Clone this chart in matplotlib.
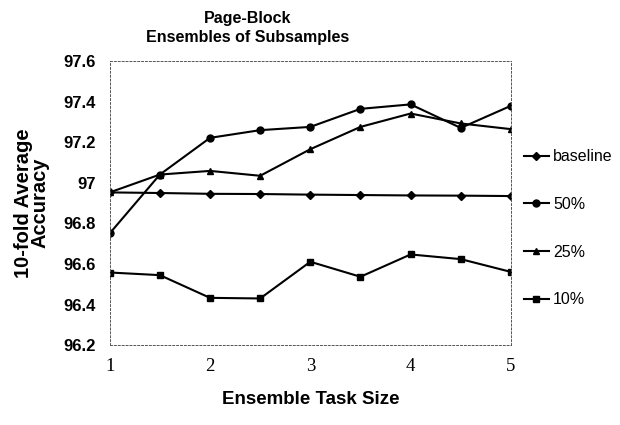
import matplotlib.pyplot as plt
import numpy as np

# data
task_size = [1, 1.5, 2, 2.5, 3, 3.5, 4, 4.5, 5]
baseline = [96.953, 96.950, 96.946, 96.945, 96.942, 96.940, 96.938, 96.937, 96.935]
acc_50 = [96.751, 97.041, 97.222, 97.260, 97.276, 97.365, 97.387, 97.271, 97.380]
acc_25 = [96.953, 97.041, 97.059, 97.035, 97.166, 97.276, 97.342, 97.293, 97.265]
acc_10 = [96.558, 96.545, 96.433, 96.430, 96.611, 96.537, 96.647, 96.624, 96.561]

y_ticks = [96.2, 96.4, 96.6, 96.8, 97, 97.2, 97.4, 97.6]
y_labels = ["96.2", "96.4", "96.6", "96.8", "97", "97.2", "97.4", "97.6"]

fig = plt.figure(figsize=(6.2, 4.25), dpi=100)
ax = fig.add_axes([0.177, 0.188, 0.647, 0.668])

ax.plot(task_size, baseline, color='k', lw=1.5, marker='D', ms=4, label='baseline')
ax.plot(task_size, acc_50, color='k', lw=1.5, marker='o', ms=5, label='50%')
ax.plot(task_size, acc_25, color='k', lw=1.5, marker='^', ms=5, label='25%')
ax.plot(task_size, acc_10, color='k', lw=1.5, marker='s', ms=4, label='10%')

ax.set_xlim(1, 5)
ax.set_ylim(96.2, 97.6)
ax.set_xticks([1, 2, 3, 4, 5])
ax.set_xticklabels(["1", "2", "3", "4", "5"], family='Liberation Serif', fontsize=13.5)
ax.set_yticks(y_ticks)
ax.set_yticklabels(y_labels, family='Liberation Sans', fontsize=12, fontweight='bold')
ax.tick_params(length=0, pad=10)
ax.tick_params(axis='x', pad=9)

# dotted frame round the plot area
for s in ax.spines.values():
    s.set_linestyle((0, (2, 2)))
    s.set_linewidth(0.7)
    s.set_color('#555555')

ax.set_xlabel("Ensemble Task Size", family='Liberation Sans', fontsize=13.5,
              fontweight='bold', labelpad=12)
ax.set_ylabel("10-fold Average\nAccuracy", family='Liberation Sans', fontsize=14.5,
              fontweight='bold', labelpad=10, linespacing=0.85)

fig.text(0.40, 0.975, "Page-Block\nEnsembles of Subsamples", ha='center', va='top',
         family='Liberation Sans', fontsize=11.5, fontweight='bold', linespacing=1.4)

leg = ax.legend(loc='upper left', bbox_to_anchor=(1.0, 0.735), frameon=False,
                prop={'family': 'Liberation Sans', 'size': 11.5},
                labelspacing=2.05, handlelength=1.6, handletextpad=0.25, borderaxespad=0.4)

fig.savefig("out.png", dpi=100)
